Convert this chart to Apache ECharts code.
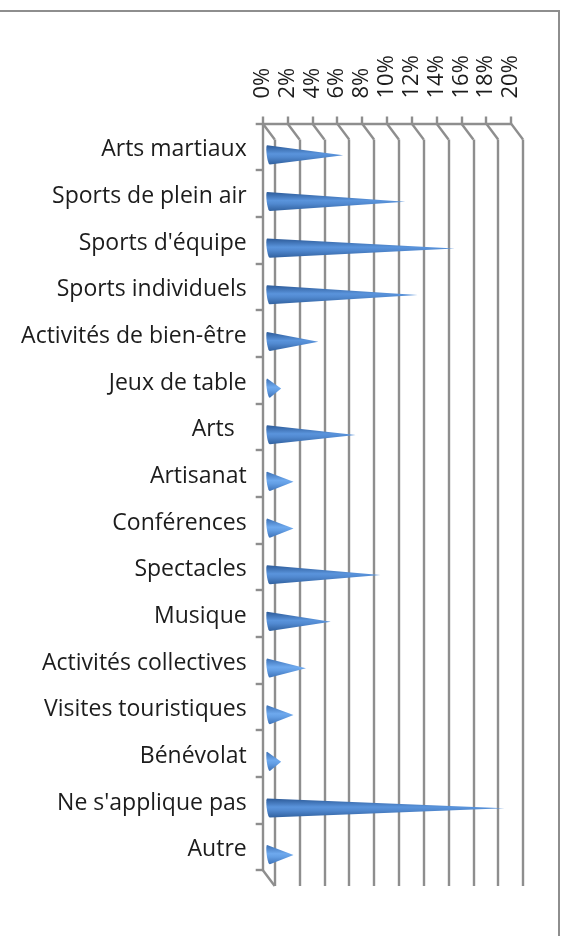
<!DOCTYPE html>
<html>
<head>
<meta charset="utf-8">
<title>Activités</title>
<style>
html,body{margin:0;padding:0;background:#fff;}
#chart{width:565px;height:936px;}
</style>
<script src="https://cdn.jsdelivr.net/npm/echarts@6/dist/echarts.min.js"></script>
</head>
<body>
<div id="chart"></div>
<script>
'use strict';

var categories=["Arts martiaux","Sports de plein air","Sports d'équipe","Sports individuels","Activités de bien-être","Jeux de table","Arts  ","Artisanat","Conférences","Spectacles","Musique","Activités collectives","Visites touristiques","Bénévolat","Ne s'applique pas","Autre"];
var values=[6,11,15,12,4,1,7,2,2,9,5,3,2,1,19,2];
var tickValues=[0,2,4,6,8,10,12,14,16,18,20];

var AXIS_COLOR="#8e8e8e";
var TEXT_COLOR="#1c1c1c";
var FONT="Open Sans";
// 3d look: three grids, front wall, cone plane, back wall
var LEFT=262.7,TOP=123.5,WIDTH=248.3,HEIGHT=746.5;
var DEPTH_X=12,DEPTH_Y=16;
var LINE_WIDTH=2.4;

function $extend(a,b){
    for(var k in b){a[k]=b[k];}
    return a;
}
function makeGrid(dx,dy){
    return {left:LEFT+dx,top:TOP+dy,width:WIDTH,height:HEIGHT,containLabel:false,outerBoundsMode:'none'};
}
function makeX(index,extra){
    return $extend({gridIndex:index,type:'value',min:0,max:20,interval:2,position:'top',
        axisLine:{show:false},axisTick:{show:false},axisLabel:{show:false},splitLine:{show:false}},extra);
}
function makeY(index,extra){
    return $extend({gridIndex:index,type:'category',data:categories,inverse:true,
        axisLine:{show:false},axisTick:{show:false},axisLabel:{show:false},splitLine:{show:false}},extra);
}

// cone lying on its side, base on the left
function renderCone(params,api){
    var val=api.value(0);
    var tip=api.coord([val,api.value(1)]);
    var base=api.coord([0,api.value(1)]);
    var half=api.size([0,1])[1]*0.205;
    var pts=[[tip[0],tip[1]+0.3],[base[0]+1.2,base[1]+half]];
    for(var i=1;i<10;i++){
        var a=Math.PI*i/10;
        pts.push([base[0]-0.4-1.6*Math.sin(a)+1.2*Math.cos(a),base[1]+half*Math.cos(a)]);
    }
    pts.push([base[0]-1.6,base[1]-half]);
    // the short cones read lighter in the original
    var stops=val<4 ? [
        {offset:0,color:'#3c70b4'},
        {offset:0.45,color:'#6ea9ee'},
        {offset:0.62,color:'#639ee4'},
        {offset:1,color:'#3d72b8'}
    ] : [
        {offset:0,color:'#2c5a98'},
        {offset:0.45,color:'#5a94dc'},
        {offset:0.62,color:'#5189d0'},
        {offset:1,color:'#31619f'}
    ];
    return {
        type:'polygon',
        shape:{points:pts},
        style:{fill:new echarts.graphic.LinearGradient(0,0,0,1,stops)}
    };
}

// side lines joining the front wall to the back wall
function renderDepth(params,api){
    var p=api.coord([api.value(0),categories[0]]);
    var h=api.size([0,1])[1];
    var y=p[1]-h/2;
    var children=[{type:'line',shape:{x1:p[0],y1:y,x2:p[0]+DEPTH_X,y2:y+DEPTH_Y},style:{stroke:AXIS_COLOR,lineWidth:LINE_WIDTH}}];
    if(params.dataIndex===0){
        var yb=y+HEIGHT;
        children.push({type:'line',shape:{x1:p[0],y1:yb,x2:p[0]+DEPTH_X,y2:yb+DEPTH_Y},style:{stroke:AXIS_COLOR,lineWidth:LINE_WIDTH}});
    }
    return {type:'group',children:children};
}

var chart=echarts.init(document.getElementById('chart'),null,{renderer:'canvas'});
chart.setOption({
    animation:false,
    backgroundColor:'#fff',
    textStyle:{fontFamily:FONT},
    graphic:[
        {type:'polyline',silent:true,shape:{points:[[0,11],[559,11],[559,936]]},style:{fill:null,stroke:AXIS_COLOR,lineWidth:2}}
    ],
    grid:[makeGrid(0,0),makeGrid(DEPTH_X/2,DEPTH_Y/2),makeGrid(DEPTH_X,DEPTH_Y)],
    xAxis:[
        makeX(0,{
            axisLine:{show:true,lineStyle:{color:AXIS_COLOR,width:LINE_WIDTH}},
            axisTick:{show:true,length:7,lineStyle:{color:AXIS_COLOR,width:LINE_WIDTH}},
            axisLabel:{show:true,rotate:-90,margin:25,fontFamily:FONT,fontSize:22,color:TEXT_COLOR,formatter:'{value}%'}
        }),
        makeX(1,{}),
        makeX(2,{splitLine:{show:true,lineStyle:{color:AXIS_COLOR,width:LINE_WIDTH}}})
    ],
    yAxis:[
        makeY(0,{
            axisLine:{show:true,lineStyle:{color:AXIS_COLOR,width:LINE_WIDTH}},
            axisTick:{show:true,length:7,lineStyle:{color:AXIS_COLOR,width:LINE_WIDTH}},
            // top anchored with a short line box, drops the text about 3px like the original
            axisLabel:{show:true,interval:0,margin:16,fontFamily:FONT,fontSize:23,verticalAlign:'top',lineHeight:6,color:TEXT_COLOR}
        }),
        makeY(1,{}),
        makeY(2,{})
    ],
    series:[
        {
            type:'custom',
            xAxisIndex:0,yAxisIndex:0,
            silent:true,z:1,
            encode:{x:0},
            data:tickValues.map(function(v){return [v];}),
            renderItem:renderDepth
        },
        {
            type:'custom',
            xAxisIndex:1,yAxisIndex:1,
            silent:true,z:5,
            encode:{x:0,y:1},
            data:values.map(function(v,i){return [v,i];}),
            renderItem:renderCone
        }
    ]
});
</script>
</body>
</html>
